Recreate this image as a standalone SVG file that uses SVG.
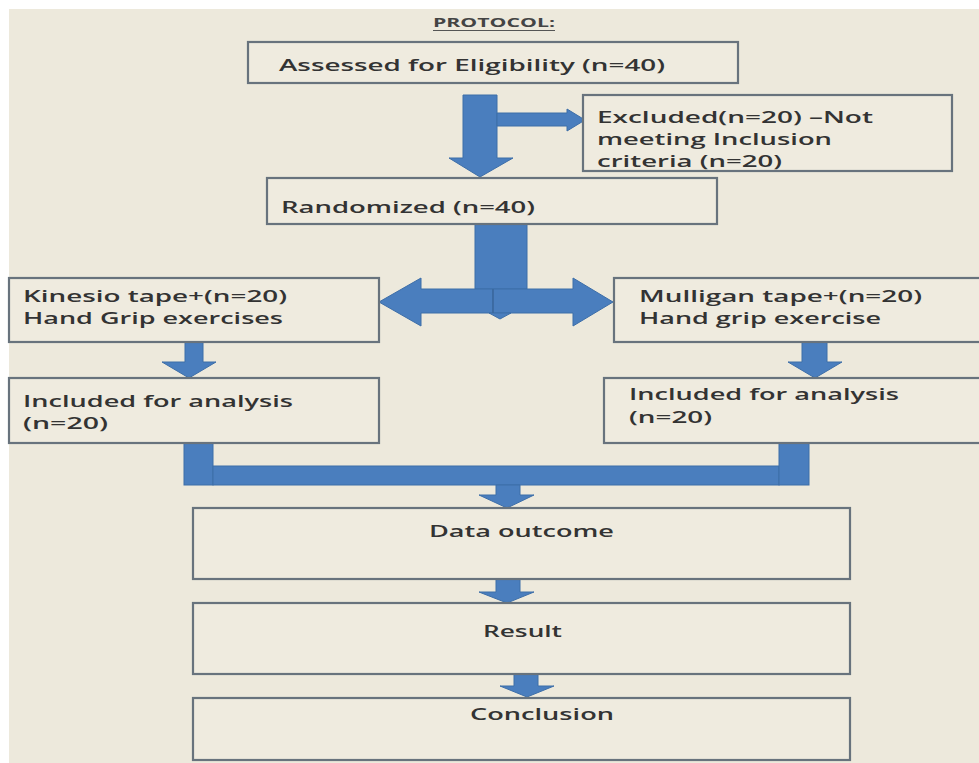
<svg xmlns="http://www.w3.org/2000/svg" width="979" height="763" viewBox="0 0 979 763">
<style>
.box{fill:#efebdf;stroke:#68737d;stroke-width:2.2}
.t{font-family:"Open Sans","Liberation Sans",sans-serif;font-weight:600;font-size:15.5px;fill:#333333}
.ar{fill:#4a7ebe;stroke:#3d6ea8;stroke-width:1;stroke-linejoin:miter}
.div{stroke:#3a6699;stroke-width:1.2}
</style>
<rect x="0" y="0" width="979" height="763" fill="#ffffff"/>
<rect x="9" y="9" width="970" height="754" fill="#ede9dc"/>

<g id="title">
<text x="433" y="27" font-family="'Open Sans','Liberation Sans',sans-serif" font-weight="700" font-size="13" fill="#444" textLength="122" lengthAdjust="spacingAndGlyphs">PROTOCOL:</text>
<line x1="433" y1="30.5" x2="555" y2="30.5" stroke="#555" stroke-width="1"/>
</g>

<g id="connectors">
<polygon class="ar" points="463,95 497,95 497,158 513,158 480,177 449,158 463,158"/>
<polygon class="ar" points="497,113 567,113 567,109 585,120 567,131 567,126 497,126"/>
<rect class="ar" x="475" y="224" width="52" height="65"/>
<polygon class="ar" points="493,289 421,289 421,278 379,302 421,326 421,313 493,313"/>
<polygon class="ar" points="493,289 573,289 573,278 613,302 573,326 573,313 493,313"/>
<polygon class="ar" points="489,313 511,313 500,319"/>
<line class="div" x1="493" y1="289" x2="493" y2="313"/>
<polygon class="ar" points="185,342 203,342 203,362 216,362 189,378 162,362 185,362"/>
<polygon class="ar" points="802,342 827,342 827,362 842,362 815,378 788,362 802,362"/>
<rect class="ar" x="184" y="443" width="29" height="42"/>
<rect class="ar" x="213" y="466" width="566" height="19"/>
<rect class="ar" x="779" y="443" width="30" height="42"/>
<polygon class="ar" points="496,485 520,485 520,495 534,495 507,508 479,495 496,495"/>
<polygon class="ar" points="496,579 520,579 520,592 534,592 507,603 479,592 496,592"/>
<polygon class="ar" points="514,674 538,674 538,686 554,686 527,697 500,686 514,686"/>
</g>

<g id="assessed">
<rect class="box" x="248" y="42" width="490" height="41"/>
<text class="t" x="279" y="71" textLength="386" lengthAdjust="spacingAndGlyphs">Assessed for Eligibility (n=40)</text>
</g>

<g id="excluded">
<rect class="box" x="583" y="95" width="369" height="76"/>
<text class="t" x="597" y="123" textLength="276" lengthAdjust="spacingAndGlyphs">Excluded(n=20) –Not</text>
<text class="t" x="597" y="145" textLength="235" lengthAdjust="spacingAndGlyphs">meeting Inclusion</text>
<text class="t" x="597" y="167" textLength="185" lengthAdjust="spacingAndGlyphs">criteria (n=20)</text>
</g>

<g id="randomized">
<rect class="box" x="267" y="178" width="450" height="46"/>
<text class="t" x="281" y="213" textLength="254" lengthAdjust="spacingAndGlyphs">Randomized (n=40)</text>
</g>

<g id="kinesio">
<rect class="box" x="9" y="278" width="370" height="64"/>
<text class="t" x="23" y="302" textLength="264" lengthAdjust="spacingAndGlyphs">Kinesio tape+(n=20)</text>
<text class="t" x="23" y="324" textLength="260" lengthAdjust="spacingAndGlyphs">Hand Grip exercises</text>
</g>

<g id="mulligan">
<rect class="box" x="614" y="278" width="380" height="64"/>
<text class="t" x="639" y="302" textLength="283" lengthAdjust="spacingAndGlyphs">Mulligan tape+(n=20)</text>
<text class="t" x="639" y="324" textLength="242" lengthAdjust="spacingAndGlyphs">Hand grip exercise</text>
</g>

<g id="included-left">
<rect class="box" x="9" y="378" width="370" height="65"/>
<text class="t" x="23" y="407" textLength="270" lengthAdjust="spacingAndGlyphs">Included for analysis</text>
<text class="t" x="23" y="429" textLength="85" lengthAdjust="spacingAndGlyphs">(n=20)</text>
</g>

<g id="included-right">
<rect class="box" x="604" y="378" width="390" height="65"/>
<text class="t" x="629" y="400" textLength="270" lengthAdjust="spacingAndGlyphs">Included for analysis</text>
<text class="t" x="629" y="423" textLength="83" lengthAdjust="spacingAndGlyphs">(n=20)</text>
</g>

<g id="data-outcome">
<rect class="box" x="193" y="508" width="657" height="71"/>
<text class="t" x="429" y="537" textLength="185" lengthAdjust="spacingAndGlyphs">Data outcome</text>
</g>

<g id="result">
<rect class="box" x="193" y="603" width="657" height="71"/>
<text class="t" x="483" y="637" textLength="79" lengthAdjust="spacingAndGlyphs">Result</text>
</g>

<g id="conclusion">
<rect class="box" x="193" y="698" width="657" height="62"/>
<text class="t" x="470" y="720" textLength="144" lengthAdjust="spacingAndGlyphs">Conclusion</text>
</g>
</svg>
